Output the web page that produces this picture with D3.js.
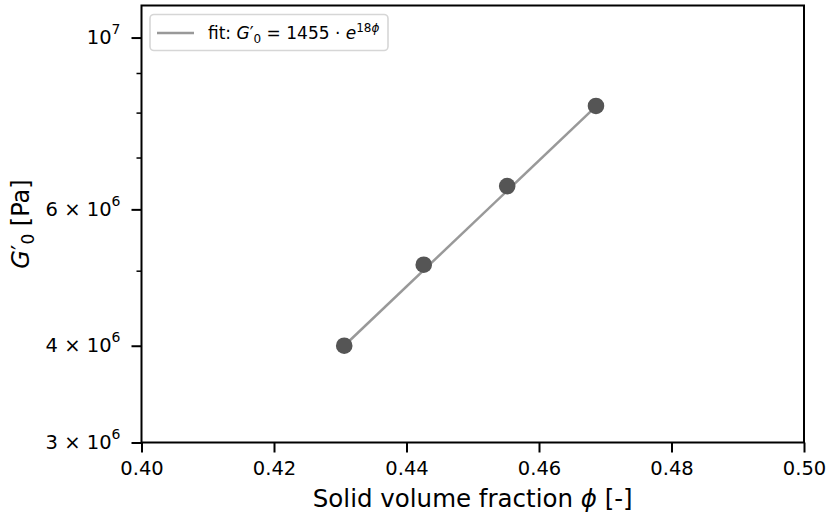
<!DOCTYPE html>
<html>
<head>
<meta charset="UTF-8" />
<script src="https://cdn.jsdelivr.net/npm/d3@7"></script>
<style>
  body { margin: 0; background: #fff; }
  text { font-family: "DejaVu Sans", sans-serif; }
</style>
</head>
<body>
<script>
// measured points
var phi = [0.4306, 0.4426, 0.4552, 0.4686];
var modulus = [4.0e6, 5.09e6, 6.43e6, 8.16e6];
// fit line end points
var fitPhi = [0.4306, 0.4686];
var fitG = [4.0e6, 8.15e6];
var xTicks = [0.40, 0.42, 0.44, 0.46, 0.48, 0.50];
var yMajor = [3e6, 4e6, 6e6, 1e7];
var yMinor = [5e6, 7e6, 8e6, 9e6];
var yLabels = [["3", "6"], ["4", "6"], ["6", "6"], [null, "7"]];

var W = 829, H = 517;
var pl = 141.5, pr = 804, pt = 5.5, pb = 442.5;

var svg = d3.select("body").append("svg").attr("width", W).attr("height", H);

var x = d3.scaleLinear().domain([0.40, 0.50]).range([pl, pr]);
var y = d3.scaleLog().domain([3e6, 1.1e7]).range([pb, pt]);

// x axis
var xa = svg.append("g")
  .attr("transform", "translate(0," + pb + ")")
  .call(d3.axisBottom(x).tickValues(xTicks).tickSize(10).tickSizeOuter(0)
    .tickFormat(d3.format(".2f")));
xa.select(".domain").remove();
xa.selectAll(".tick line").attr("stroke", "#000").attr("stroke-width", 2);
xa.selectAll(".tick text").attr("font-size", 19.5).attr("fill", "#000")
  .attr("y", 19);

// y axis major
var ya = svg.append("g")
  .attr("transform", "translate(" + pl + ",0)")
  .call(d3.axisLeft(y).tickValues(yMajor).tickSize(10).tickSizeOuter(0)
    .tickFormat(function () { return ""; }));
ya.select(".domain").remove();
ya.selectAll(".tick line").attr("stroke", "#000").attr("stroke-width", 2);
ya.selectAll(".tick text").each(function (d, i) {
  var t = d3.select(this).attr("font-size", 19.5).attr("fill", "#000")
    .attr("x", -21).attr("dy", "0.32em");
  var lab = yLabels[i];
  if (lab[0]) t.append("tspan").text(lab[0] + " \u00d7 10");
  else t.append("tspan").text("10");
  t.append("tspan").attr("font-size", 14).attr("dy", "-0.75em").text(lab[1]);
});

// y axis minor
var ym = svg.append("g")
  .attr("transform", "translate(" + pl + ",0)")
  .call(d3.axisLeft(y).tickValues(yMinor).tickSize(5).tickSizeOuter(0)
    .tickFormat(function () { return ""; }));
ym.select(".domain").remove();
ym.selectAll(".tick line").attr("stroke", "#000").attr("stroke-width", 1.5);

// fit line
var line = d3.line().x(function (d) { return x(d[0]); }).y(function (d) { return y(d[1]); });
svg.append("path")
  .datum(d3.zip(fitPhi, fitG))
  .attr("d", line)
  .attr("fill", "none")
  .attr("stroke", "#999")
  .attr("stroke-width", 2.5);

// data points
svg.selectAll("circle.pt").data(d3.zip(phi, modulus)).enter().append("circle")
  .attr("class", "pt")
  .attr("cx", function (d) { return x(d[0]); })
  .attr("cy", function (d) { return y(d[1]); })
  .attr("r", 8.3)
  .attr("fill", "#555");

// frame
svg.append("rect")
  .attr("x", pl).attr("y", pt)
  .attr("width", pr - pl).attr("height", pb - pt)
  .attr("fill", "none").attr("stroke", "#000").attr("stroke-width", 2);

// legend
var lg = svg.append("g");
lg.append("rect")
  .attr("x", 150).attr("y", 14.5).attr("width", 238).attr("height", 36)
  .attr("rx", 4).attr("fill", "#fff").attr("fill-opacity", 0.8)
  .attr("stroke", "#d6d6d6").attr("stroke-width", 1.6);
lg.append("line")
  .attr("x1", 157).attr("x2", 194).attr("y1", 33).attr("y2", 33)
  .attr("stroke", "#999").attr("stroke-width", 2.5);
var lt = lg.append("text").attr("x", 208).attr("y", 39).attr("font-size", 17).attr("fill", "#000");
lt.append("tspan").text("fit: ");
lt.append("tspan").attr("font-style", "italic").text("G");
lt.append("tspan").text("\u2032");
lt.append("tspan").attr("font-size", 12).attr("dy", 4).text("0");
lt.append("tspan").attr("dy", -4).text(" = 1455 \u00b7 ");
lt.append("tspan").attr("font-style", "italic").text("e");
lt.append("tspan").attr("font-size", 12).attr("dy", -7).text("18");
lt.append("tspan").attr("font-size", 12).attr("font-style", "italic").text("\u03d5");

// axis labels
svg.append("text")
  .attr("x", (pl + pr) / 2).attr("y", 507)
  .attr("text-anchor", "middle").attr("font-size", 24.5).attr("fill", "#000")
  .call(function (t) {
    t.append("tspan").text("Solid volume fraction ");
    t.append("tspan").attr("font-style", "italic").text("\u03d5");
    t.append("tspan").text(" [-]");
  });

var yl = svg.append("text")
  .attr("transform", "translate(29," + ((pt + pb) / 2) + ") rotate(-90)")
  .attr("text-anchor", "middle").attr("font-size", 24).attr("fill", "#000");
yl.append("tspan").attr("font-style", "italic").text("G");
yl.append("tspan").text("\u2032");
yl.append("tspan").attr("font-size", 17).attr("dy", 5).text("0");
yl.append("tspan").attr("dy", -5).text(" [Pa]");
</script>
</body>
</html>
